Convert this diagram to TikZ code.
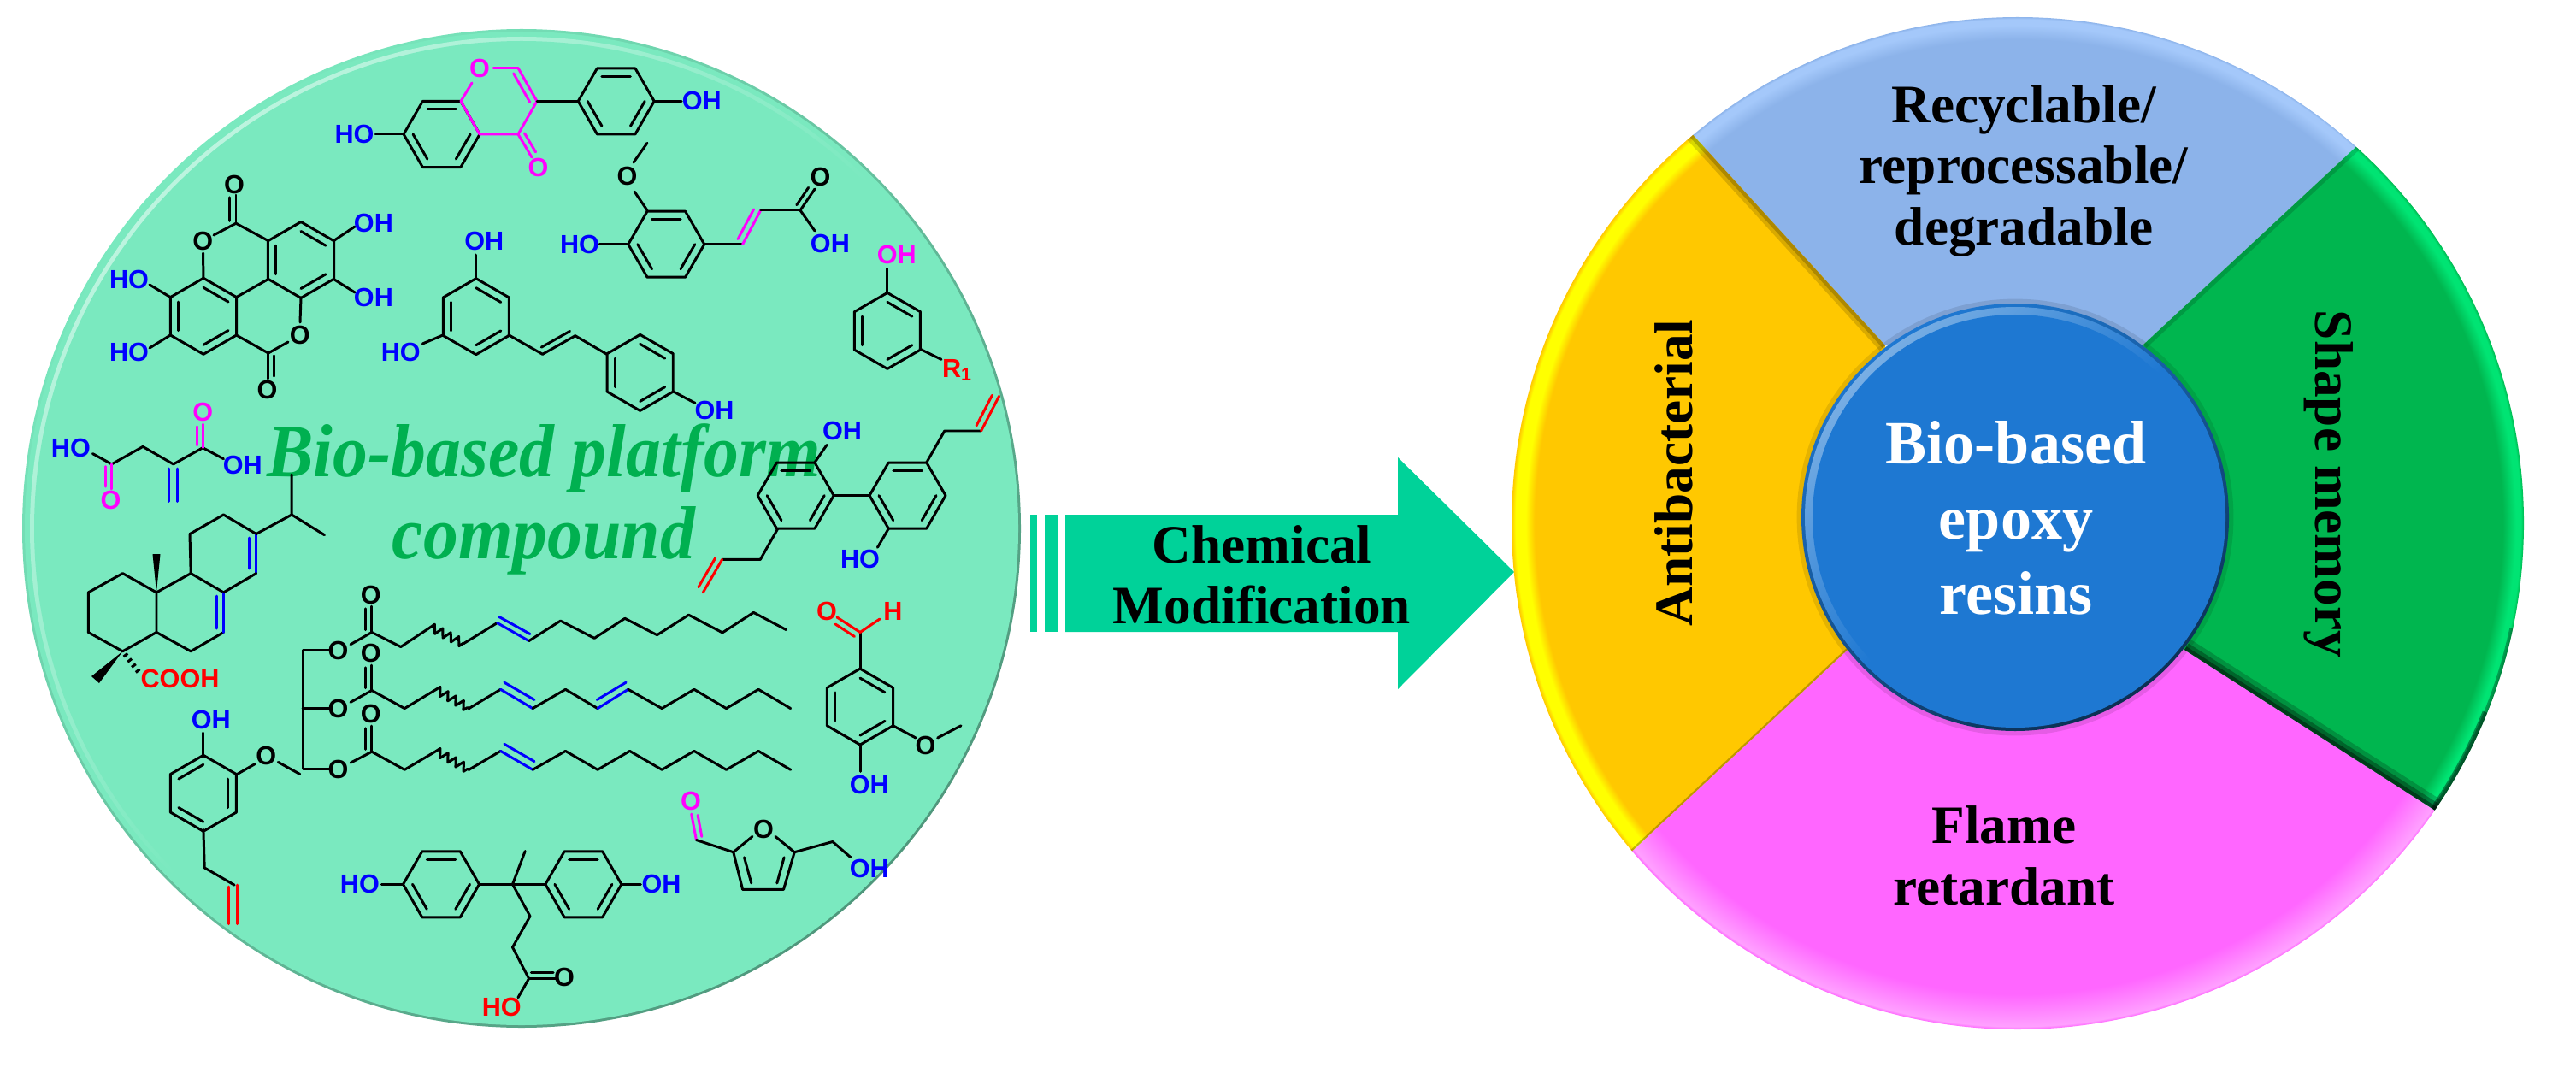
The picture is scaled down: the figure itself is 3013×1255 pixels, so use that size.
\documentclass[tikz,border=0pt]{standalone}
\usepackage{fontspec}
\setmainfont{Liberation Serif}
\setsansfont{Liberation Sans}
\newfontfamily\titlefont{Liberation Serif}[FakeStretch=0.93]
\usepackage{xcolor}
\usepackage{tikz}
\usetikzlibrary{calc, decorations.pathmorphing}
\definecolor{mintcolor}{RGB}{122,233,191}
\definecolor{arrowcolor}{RGB}{0,210,153}
\definecolor{titlecolor}{RGB}{0,176,80}
\definecolor{goldcolor}{RGB}{255,200,0}
\definecolor{greencolor}{RGB}{0,182,79}
\definecolor{pinkcolor}{RGB}{255,102,255}
\definecolor{skycolor}{RGB}{140,179,234}
\definecolor{hubcolor}{RGB}{30,120,210}
\definecolor{atomblue}{RGB}{0,0,255}
\definecolor{atompink}{RGB}{255,0,255}
\definecolor{atomred}{RGB}{255,0,0}
\definecolor{yellowrim}{RGB}{255,255,0}
\definecolor{greenrim}{RGB}{0,228,115}
\definecolor{skyrim}{RGB}{164,200,250}
\definecolor{pinkrim}{RGB}{255,160,255}
\pgfdeclareradialshading{rimgold}{\pgfpointorigin}{color(0bp)=(goldcolor); color(23.85bp)=(goldcolor); color(24.3bp)=(yellowrim); color(24.8bp)=(yellowrim); color(25bp)=(goldcolor); color(50bp)=(goldcolor)}
\pgfdeclareradialshading{rimgreen}{\pgfpointorigin}{color(0bp)=(greencolor); color(23.95bp)=(greencolor); color(24.6bp)=(greenrim); color(24.85bp)=(greenrim); color(25bp)=(greencolor); color(50bp)=(greencolor)}
\pgfdeclareradialshading{rimsky}{\pgfpointorigin}{color(0bp)=(skycolor); color(23.9bp)=(skycolor); color(24.6bp)=(skyrim); color(24.9bp)=(skyrim); color(25bp)=(skycolor); color(50bp)=(skycolor)}
\pgfdeclareradialshading{rimpink}{\pgfpointorigin}{color(0bp)=(pinkcolor); color(23.25bp)=(pinkcolor); color(24.85bp)=(pinkrim); color(25bp)=(pinkcolor); color(50bp)=(pinkcolor)}
\newcommand{\hexr}{44.5}
\newcommand{\hexin}{33.5}
% ring at centre #1,#2, first double bond starts at angle #3
\newcommand{\benzene}[3]{%
  \draw[bond] ({#1+\hexr*cos(#3)},{#2+\hexr*sin(#3)}) \foreach \k in {1,...,5}{ -- ({#1+\hexr*cos(#3+60*\k)},{#2+\hexr*sin(#3+60*\k)}) } -- cycle;
  \foreach \k in {0,2,4}{ \draw[bond] ({#1+\hexin*cos(#3+60*\k)},{#2+\hexin*sin(#3+60*\k)}) -- ({#1+\hexin*cos(#3+60*\k+60)},{#2+\hexin*sin(#3+60*\k+60)}); }
}
\newcommand{\dbond}[4][black]{%
  \draw[bond,#1] #2 -- #3;
  \draw[bond,#1,shorten <=0.8pt,shorten >=0.8pt] ($#2!#4!90:#3$) -- ($#3!#4!-90:#2$);
}
\begin{document}
\begin{tikzpicture}[
    x=0.01cm,
    y=-0.01cm,
    bond/.style={line width=0.85pt, line join=round, line cap=round},
    atom/.style={font=\sffamily\bfseries\fontsize{8.7}{10}\selectfont, inner sep=0pt},
    bluelab/.style={atom, text=atomblue},
    pinklab/.style={atom, text=atompink},
    redlab/.style={atom, text=atomred},
    wavy/.style={bond, decorate, decoration={zigzag, amplitude=1.4pt, segment length=3pt}},
    wheeltext/.style={font=\bfseries\fontsize{18}{20.3}\selectfont, align=center, inner sep=0pt},
    titletext/.style={font=\titlefont\bfseries\itshape\fontsize{25}{27.5}\selectfont, align=center, inner sep=0pt, text=titlecolor}
]
    \useasboundingbox (0,0) rectangle (3013,1255);

    % Platform disc
    \shade[top color=mintcolor, bottom color=black!35!mintcolor, shading angle=45] (610,618) circle [radius=584];
    \fill[mintcolor] (610,618) circle [radius=581];
    \shade[top color=mintcolor!50!white, bottom color=mintcolor, middle color=mintcolor, shading angle=45] (610,618) circle [radius=575];
    \fill[mintcolor] (610,618) circle [radius=570];
    \node[titletext] (platform) at (636,584) {Bio-based platform\\compound};

    % Isoflavone
    \benzene{516.6}{157}{240}
    \benzene{720.7}{118.4}{240}
    \draw[bond, atompink] (539,118.4) -- (561,157) -- (606,157) -- (628,118.4);
    \dbond[atompink]{(628,118.4)}{(606,79.6)}{2.2pt}
    \draw[bond, atompink] (606,79.6) -- (577,79.6);
    \draw[bond, atompink] (552,97) -- (539,118.4);
    \dbond[atompink]{(606,157)}{(622,184)}{2pt}
    \draw[bond] (628,118.4) -- (676,118.4);
    \draw[bond] (472,157) -- (439,157);
    \draw[bond] (765,118.4) -- (797,118.4);
    \node[pinklab] (isoO) at (561,79.6) {O};
    \node[pinklab] (isoCO) at (629.5,196) {O};
    \node[bluelab] (isoHO) at (414.5,157) {HO};
    \node[bluelab] (isoOH) at (820.8,118.4) {OH};

    % Ellagic acid
    \benzene{352}{304}{270}
    \benzene{238}{369.8}{270}
    \draw[bond] (276.1,347.8) -- (313.8,326.5);
    \draw[bond] (313.8,281.6) -- (276,261.2) -- (250,275);
    \dbond{(276,261.2)}{(276,228)}{2pt}
    \draw[bond] (237.6,296) -- (237.9,326.5);
    \draw[bond] (276.1,391.8) -- (313.8,413) -- (337,400);
    \dbond{(313.8,413)}{(313.8,443)}{2pt}
    \draw[bond] (351,377) -- (352,347.8);
    \draw[bond] (390.3,281.6) -- (415,265);
    \draw[bond] (390.3,326.5) -- (415,342);
    \draw[bond] (199.6,347.8) -- (175,333);
    \draw[bond] (199.6,391.8) -- (175,407);
    \node[atom] (ellO) at (237.2,282.4) {O};
    \node[atom] (ellCO) at (274,216.3) {O};
    \node[atom] (ellOb) at (350.8,391.8) {O};
    \node[atom] (ellCOb) at (312.5,455.9) {O};
    \node[bluelab] (ellOHa) at (436.9,261.2) {OH};
    \node[bluelab] (ellOHb) at (436.9,347.8) {OH};
    \node[bluelab] (ellHOa) at (151.1,326.5) {HO};
    \node[bluelab] (ellHOb) at (151.1,412.2) {HO};

    % Ferulic acid
    \benzene{779.3}{285.7}{240}
    \draw[bond] (757,246) -- (742,224);
    \draw[bond] (741,190) -- (757,167.3);
    \draw[bond] (733.4,285.7) -- (701,285.7);
    \draw[bond] (824,285.7) -- (868.6,285.7);
    \dbond[atompink]{(868.6,285.7)}{(889.7,246)}{2.2pt}
    \draw[bond] (889.7,246) -- (936,246);
    \dbond{(936,246)}{(953,221)}{2pt}
    \draw[bond] (936,246) -- (953,270);
    \node[atom] (ferO) at (733.4,206) {O};
    \node[atom] (ferCO) at (959.4,207) {O};
    \node[bluelab] (ferHO) at (678,285.7) {HO};
    \node[bluelab] (ferOH) at (970.9,285) {OH};

    % Resveratrol
    \benzene{556.8}{370.2}{270}
    \benzene{748.7}{435.9}{270}
    \draw[bond] (556.8,326.5) -- (556.8,298);
    \draw[bond] (518.5,391.8) -- (494.3,402);
    \draw[bond] (595,391.8) -- (634.6,414.3);
    \dbond{(634.6,414.3)}{(672.8,392.7)}{2.2pt}
    \draw[bond] (672.8,392.7) -- (709.8,414.3);
    \draw[bond] (787.6,458) -- (813,471.4);
    \node[bluelab] (resOHa) at (566.3,281.6) {OH};
    \node[bluelab] (resHO) at (468.8,412.2) {HO};
    \node[bluelab] (resOHb) at (835.5,479.6) {OH};

    % Phenol
    \benzene{1037.9}{386.9}{270}
    \draw[bond] (1037.9,342.9) -- (1037.9,314.3);
    \draw[bond] (1076.1,408.2) -- (1101,420.4);
    \node[pinklab] (phOH) at (1048.7,298) {OH};
    \node[redlab] (phR) at (1120,433) {R\textsubscript{1}};

    % Itaconic acid
    \draw[bond] (108.4,530.6) -- (130.7,542.9) -- (167.1,522.4) -- (202.8,542.9) -- (237.2,523.7) -- (261.5,536.7);
    \dbond[atompink]{(130.7,542.9)}{(130.7,572)}{-2pt}
    \dbond[atompink]{(237.2,523.7)}{(237.2,496)}{2pt}
    \draw[bond, atomblue] (197.7,548) -- (197.7,586.5);
    \draw[bond, atomblue] (207.3,548) -- (207.3,586.5);
    \node[bluelab] (itaHO) at (82.9,523.7) {HO};
    \node[bluelab] (itaOH) at (283.8,543.7) {OH};
    \node[pinklab] (itaOa) at (129.5,584.5) {O};
    \node[pinklab] (itaOb) at (237.2,481.6) {O};

    % Abietic acid
    \draw[bond] (183,692.9) -- (143.5,670.6) -- (103.3,692.9) -- (103.3,739.5) -- (143.5,761.8) -- (183,739.5) -- cycle;
    \draw[bond] (183,692.9) -- (223.2,670.6) -- (261.5,692.9);
    \draw[bond] (261.5,739.5) -- (223.2,761.8) -- (183,739.5);
    \draw[bond, atomblue] (261.5,692.9) -- (261.5,739.5);
    \draw[bond, atomblue] (253.2,697) -- (253.2,735);
    \draw[bond] (223.2,670.6) -- (222,624.5) -- (261.5,602) -- (299.7,624.5);
    \draw[bond, atomblue] (299.7,624.5) -- (299.7,670.6);
    \draw[bond, atomblue] (291.5,629) -- (291.5,665);
    \draw[bond] (299.7,670.6) -- (261.5,692.9);
    \draw[bond] (299.7,624.5) -- (341.2,602) -- (341.2,555);
    \draw[bond] (341.2,602) -- (379.5,625.7);
    \fill (183,692.9) -- (178.5,648) -- (187.5,648) -- cycle;
    \fill (143.5,761.8) -- (107,791) -- (116,799) -- cycle;
    \draw[line width=1.7pt, dash pattern=on 0.9pt off 1.3pt] (146,765) -- (163,787);
    \node[redlab] (abiCOOH) at (210.5,794) {COOH};

    % Triglyceride
    \draw[bond] (385.8,760.5) -- (354,760.5) -- (354,899.5) -- (385.8,899.5);
    \draw[bond] (354,828.6) -- (385.8,828.6);
    \draw[bond] (410,753.7) -- (434.9,739.5) -- (468.8,756.5) -- (503.8,733.4);
    \draw[wavy] (503.8,733.4) -- (542.1,752.8);
    \draw[bond] (542.1,752.8) -- (581.6,728.5);
    \draw[bond, atomblue] (581.6,728.5) -- (618.6,749.6);
    \draw[bond, atomblue] (583.5,721.3) -- (619.9,741.5);
    \draw[bond] (618.6,749.6) -- (655.6,726.1) -- (695.2,746.4) -- (730.9,723.3) -- (768.5,742.7) -- (805.5,719.2) -- (845,739.9) -- (881.4,716.4) -- (919.6,736.6);
    \draw[bond] (410,821.3) -- (434.9,807.5) -- (473.2,828.6) -- (510.2,806.3);
    \draw[wavy] (510.2,806.3) -- (548.5,828.6);
    \draw[bond] (548.5,828.6) -- (585.5,806.3);
    \draw[bond, atomblue] (585.5,806.3) -- (623.1,828.6);
    \draw[bond, atomblue] (589.9,798.2) -- (625,818.5);
    \draw[bond] (623.1,828.6) -- (661.4,806.3) -- (699,828.6);
    \draw[bond, atomblue] (699,828.6) -- (734.7,806.3);
    \draw[bond, atomblue] (698.3,818.5) -- (732.1,798.2);
    \draw[bond] (734.7,806.3) -- (774.2,828.6) -- (811.9,806.3) -- (849.5,828.6) -- (887.1,806.3) -- (924.7,828.6);
    \draw[bond] (410,892.2) -- (434.9,879.2) -- (473.2,900.3) -- (510.2,878.4);
    \draw[wavy] (510.2,878.4) -- (548.5,900.3);
    \draw[bond] (548.5,900.3) -- (585.5,878.4);
    \draw[bond, atomblue] (585.5,878.4) -- (623.1,900.3);
    \draw[bond, atomblue] (589.9,870.3) -- (625,890.6);
    \draw[bond] (623.1,900.3) -- (661.4,878.4) -- (699,900.3) -- (736.6,878.4) -- (774.2,900.3) -- (811.9,878.4) -- (849.5,900.3) -- (887.1,878.4) -- (924.7,900.3);
    \dbond{(434.9,739.5)}{(434.9,709)}{2pt}
    \dbond{(434.9,807.5)}{(434.9,778)}{2pt}
    \dbond{(434.9,879.2)}{(434.9,849)}{2pt}
    \node[atom] (triOa) at (395.4,760.5) {O};
    \node[atom] (triOb) at (395.4,828.6) {O};
    \node[atom] (triOc) at (395.4,899.5) {O};
    \node[atom] (triCOa) at (433.7,696.1) {O};
    \node[atom] (triCOb) at (433.7,763.8) {O};
    \node[atom] (triCOc) at (433.7,834.7) {O};

    % Allyl guaiacol
    \benzene{237.9}{927.8}{330}
    \draw[bond] (237.9,885.3) -- (237.9,857);
    \draw[bond] (276.1,906.3) -- (298.5,893.4);
    \draw[bond] (325.3,891.4) -- (350.8,905.5);
    \draw[bond] (237.9,970.3) -- (239.2,1014.9) -- (274.2,1035.2);
    \draw[bond, atomred] (267.9,1037) -- (267.9,1080.5);
    \draw[bond, atomred] (277.4,1035) -- (277.4,1080.5);
    \node[bluelab] (guaOH) at (246.8,841.5) {OH};
    \node[atom] (guaO) at (311.2,884) {O};

    % Diphenolic acid
    \benzene{516}{1034.3}{240}
    \benzene{682.4}{1034.3}{240}
    \draw[bond] (446.4,1034.3) -- (471.5,1034.3);
    \draw[bond] (727,1034.3) -- (749.4,1034.3);
    \draw[bond] (560.5,1034.3) -- (638,1034.3);
    \draw[bond] (614.2,995.5) -- (599.5,1034.3) -- (620,1071.6) -- (599.5,1108) -- (618.6,1144.5);
    \dbond{(618.6,1144.5)}{(650,1144.5)}{2pt}
    \draw[bond] (618.6,1144.5) -- (605.9,1166.8);
    \node[bluelab] (dpaHO) at (420.9,1034.3) {HO};
    \node[bluelab] (dpaOH) at (773.6,1034.3) {OH};
    \node[atom] (dpaO) at (660,1142.5) {O};
    \node[redlab] (dpaOHb) at (586.7,1178.1) {HO};

    % Hydroxymethylfurfural
    \dbond[atompink]{(814.4,982.5)}{(808.7,952)}{-2pt}
    \draw[bond] (814.4,982.5) -- (857.8,996.7) -- (880,978.4);
    \draw[bond] (906.9,978.4) -- (929.2,996.7) -- (916.5,1040.4) -- (868.6,1040.4) -- (857.8,996.7);
    \draw[bond] (870.5,1002.8) -- (878.8,1033);
    \draw[bond] (917.1,1002.8) -- (908.8,1033);
    \draw[bond] (929.2,996.7) -- (973.9,984.5) -- (994.9,1002.7);
    \node[pinklab] (hmfCO) at (808,936.7) {O};
    \node[atom] (hmfO) at (892.9,970.3) {O};
    \node[bluelab] (hmfOH) at (1016.8,1015.7) {OH};

    % Vanillin
    \benzene{1006}{826.6}{270}
    \draw[bond] (1006,782) -- (1006,739.5);
    \dbond[atomred]{(1006,739.5)}{(979,722)}{2.2pt}
    \draw[bond, atomred] (1006,739.5) -- (1029,724);
    \draw[bond] (1044.5,848.8) -- (1071,863);
    \draw[bond] (1096.6,863) -- (1124,848.8);
    \draw[bond] (1006,871.1) -- (1006,902.3);
    \node[redlab] (vanO) at (967.1,715.2) {O};
    \node[redlab] (vanH) at (1044.3,715.2) {H};
    \node[atom] (vanOb) at (1082.5,871.9) {O};
    \node[bluelab] (vanOH) at (1016.8,917.7) {OH};

    % Magnolol
    \benzene{930.7}{579.6}{240}
    \benzene{1061.5}{579.6}{240}
    \draw[bond] (975,579.6) -- (1017,579.6);
    \draw[bond] (953,540.8) -- (967.1,520.4);
    \draw[bond] (1083.8,540.8) -- (1104.8,504) -- (1147.6,504);
    \dbond[atomred]{(1147.6,504)}{(1168.6,463.3)}{2.2pt}
    \draw[bond] (909.7,618.4) -- (889.3,654.4) -- (844.6,654.4);
    \dbond[atomred]{(844.6,654.4)}{(822.3,692.9)}{-2.2pt}
    \draw[bond] (1039.2,618.4) -- (1026.4,640.3);
    \node[bluelab] (magOH) at (985,504) {OH};
    \node[bluelab] (magHO) at (1006,654.4) {HO};

    % Arrow
    \fill[arrowcolor] (1205,602) rectangle (1213,739);
    \fill[arrowcolor] (1222,602) rectangle (1237.5,739);
    \fill[arrowcolor] (1246,602) -- (1635,602) -- (1635,535) -- (1771,669) -- (1635,806) -- (1635,739) -- (1246,739) -- cycle;
    \node[wheeltext, font=\fontsize{18}{20.1}\selectfont\bfseries] (modLabel) at (1476,672) {Chemical\\Modification};

    % Wheel
    \coordinate (hubA) at (2205,404);
    \coordinate (rimA) at (1962,138);
    \coordinate (hubB) at (2507,403);
    \coordinate (rimB) at (2778,151);
    \coordinate (hubC) at (2555,760);
    \coordinate (rimC) at (2864,958);
    \coordinate (hubD) at (2161,760);
    \coordinate (rimD) at (1888,1015);
    \begin{scope}
        \clip (hubA) -- (rimA) -- (2000,-20) -- (2750,-20) -- (rimB) -- (hubB) -- cycle;
        \shade[shading=rimsky] (2360,612) circle [radius=592];
    \end{scope}
    \begin{scope}
        \clip (hubD) -- (rimD) -- (1800,1300) -- (2950,1300) -- (rimC) -- (hubC) -- cycle;
        \shade[shading=rimpink] (2360,612) circle [radius=592];
    \end{scope}
    \begin{scope}
        \clip (2360,612) circle [radius=592];
        \clip (hubA) -- (rimA) -- (1700,100) -- (1700,1100) -- (rimD) -- (hubD) -- cycle;
        \shade[shading=rimgold] (2360,612) circle [radius=592];
        \draw[black, opacity=0.15, line width=5pt] (hubA) -- (rimA);
        \draw[black, opacity=0.2, line width=2.5pt] (hubA) -- (rimA);
        \draw[black, opacity=0.25, line width=1.2pt] (hubD) -- (rimD);
    \end{scope}
    \begin{scope}
        \clip (2360,612) circle [radius=592];
        \clip (hubB) -- (rimB) -- (3000,100) -- (3000,1100) -- (rimC) -- (hubC) -- cycle;
        \shade[shading=rimgreen] (2360,612) circle [radius=592];
        \draw[black, opacity=0.15, line width=3pt] (hubB) -- (rimB);
        \draw[black, opacity=0.2, line width=8pt] (hubC) -- (rimC);
        \draw[black, opacity=0.3, line width=5pt] (hubC) -- (rimC);
        \draw[black, opacity=0.4, line width=2.5pt] (hubC) -- (rimC);
        \draw[black, opacity=0.3, line width=1.6pt] plot[domain=-12:-36, samples=30] ({2360+591*cos(\x)},{612-591*sin(\x)});
        \draw[black, opacity=0.4, line width=2.6pt] plot[domain=-22:-36, samples=20] ({2360+591*cos(\x)},{612-591*sin(\x)});
    \end{scope}

    % Hub
    \draw[black, opacity=0.1, line width=2.5pt] (2357,605) circle [radius=251];
    \shade[top color=hubcolor, bottom color=black!60!hubcolor, shading angle=30] (2357,605) circle [radius=250];
    \shade[top color=hubcolor!60!white, bottom color=hubcolor, middle color=hubcolor, shading angle=45] (2357,605) circle [radius=246];
    \fill[hubcolor] (2357,605) circle [radius=237];
    \node[wheeltext, text=white, font=\bfseries\fontsize{20.5}{25}\selectfont] (hubLabel) at (2358,606) {Bio-based\\epoxy\\resins};

    % Wheel labels
    \node[wheeltext] (topLabel) at (2367,200) {Recyclable/\\reprocessable/\\degradable};
    \node[wheeltext] (flameLabel) at (2344,1001) {Flame\\retardant};
    \node[wheeltext, rotate=90] (antiLabel) at (1958,553) {Antibacterial};
    \node[wheeltext, rotate=-90] (shapeLabel) at (2724,566) {Shape memory};
\end{tikzpicture}
\end{document}
